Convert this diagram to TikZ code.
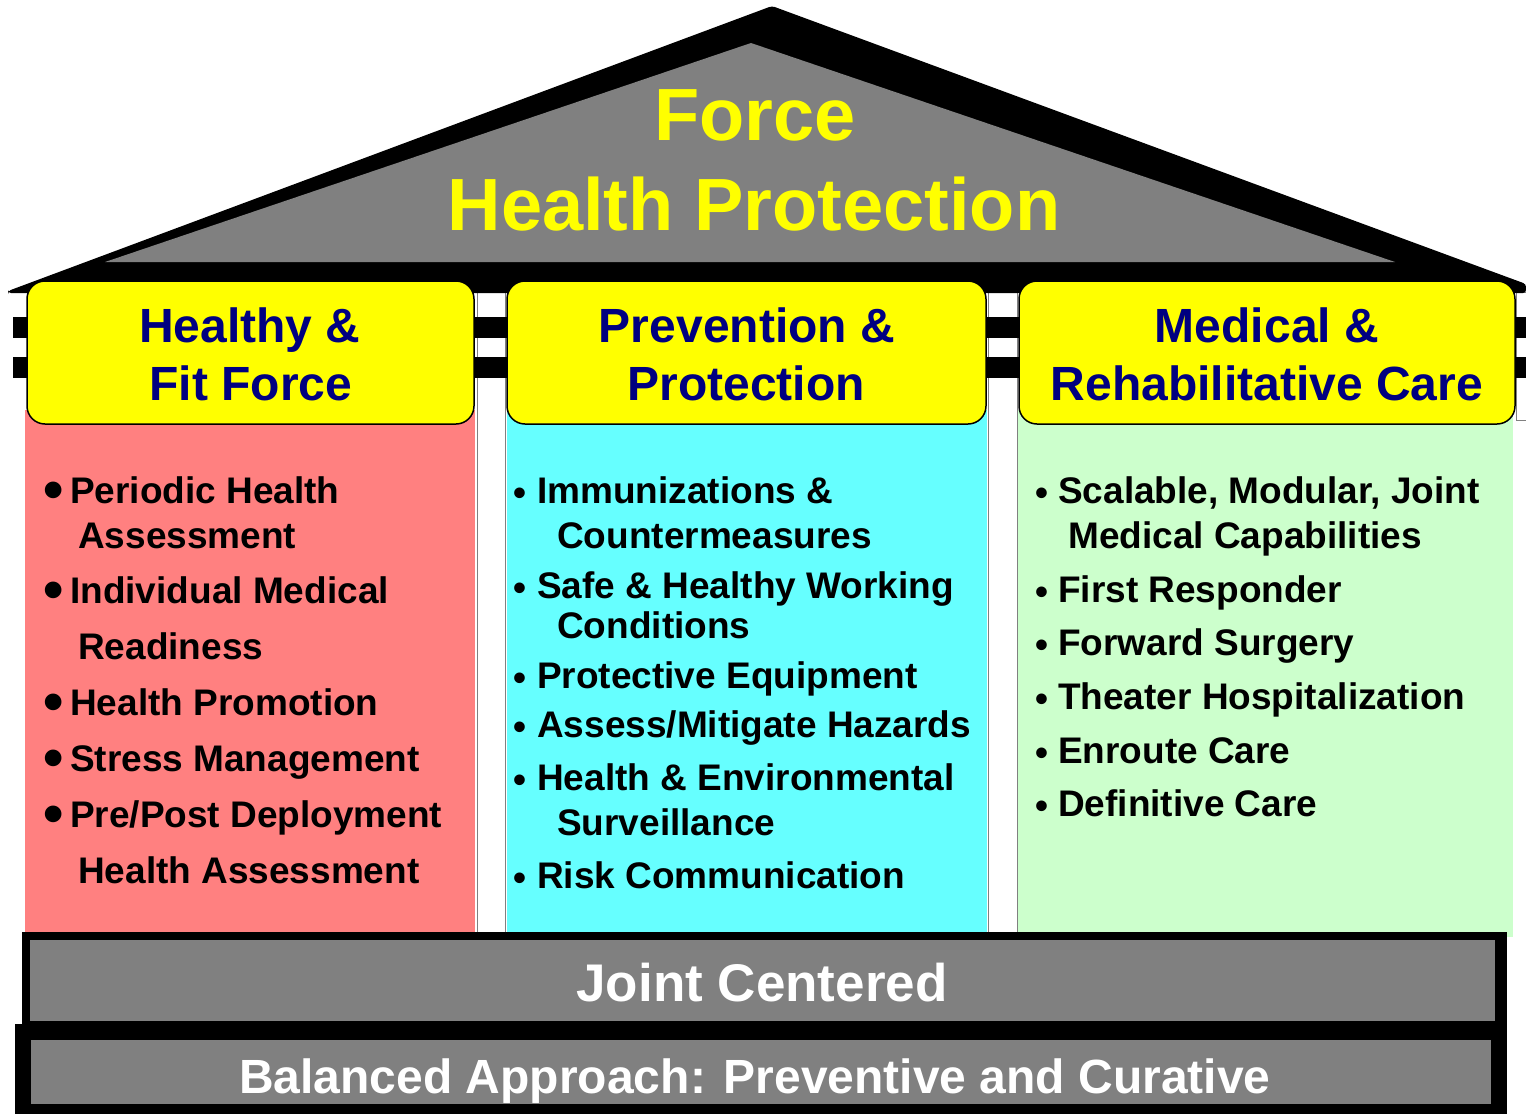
\documentclass[tikz,border=0pt]{standalone}
\usepackage{fontspec}
\setmainfont{Liberation Sans}
\definecolor{roofgray}{RGB}{128,128,128}
\definecolor{pillarred}{RGB}{255,128,128}
\definecolor{pillarcyan}{RGB}{102,255,255}
\definecolor{pillargreen}{RGB}{204,255,204}
\definecolor{headyellow}{RGB}{255,255,0}
\definecolor{navytext}{RGB}{0,0,128}
\begin{document}
\begin{tikzpicture}[x=1pt,y=-1pt,
  titletext/.style={anchor=base,inner sep=0pt,text=headyellow,font=\fontsize{74}{74}\selectfont\bfseries},
  headtext/.style={anchor=base,inner sep=0pt,text=navytext,font=\fontsize{48}{48}\selectfont\bfseries},
  itemtext/.style={anchor=base west,inner sep=0pt,text=black,font=\fontsize{37}{37}\selectfont\bfseries},
  bigbullet/.style={anchor=center,inner sep=0pt,text=black,font=\fontsize{58}{58}\selectfont\bfseries},
  smallbullet/.style={anchor=center,inner sep=0pt,text=black,font=\fontsize{37}{37}\selectfont\bfseries},
  headbox/.style={draw=black,line width=1.5pt,fill=headyellow,rounded corners=18pt},
  basetext/.style={anchor=base,inner sep=0pt,text=white,font=\bfseries},
  gapcol/.style={fill=white,draw=roofgray,line width=0.8pt}
]
\useasboundingbox (0,0) rectangle (1526,1114);
\fill[white] (0,0) rectangle (1526,1114);

% white gap columns between pillars
\filldraw[gapcol] (477,292) rectangle (505,934);
\filldraw[gapcol] (988,292) rectangle (1017,936);
\filldraw[gapcol] (1516,292) rectangle (1530,420);

% stripes (beams)
\fill[black] (13,317) rectangle (1526,338);
\fill[black] (13,357) rectangle (1526,378);

% roof
\fill[black,rounded corners=3pt] (8,291) -- (772,6) -- (1526,284) -- (1526,293) -- (8,293) -- cycle;
\fill[roofgray] (105,262) -- (751,43) -- (1395,262) -- cycle;

% pillars
\fill[pillarred] (25,410) rectangle (475,934);
\fill[pillarcyan] (507,410) rectangle (987,934);
\fill[pillargreen] (1018,410) rectangle (1513,937);

% header boxes
\draw[headbox] (27,281) rectangle (474,424);
\draw[headbox] (507,281) rectangle (986,424);
\draw[headbox] (1019,281) rectangle (1515,424);

% base
\fill[black] (22,932) rectangle (1507,1030);
\fill[roofgray] (30,940) rectangle (1495,1021);
\fill[black] (15,1024) rectangle (1507,1114);
\fill[roofgray] (31,1040) rectangle (1491,1104);

% title
\node[titletext] (force) at (755,140) {Force};
\node[titletext] (fhp) at (754,230) {Health Protection};

% headers
\node[headtext] (h1a) at (250,342) {Healthy \&};
\node[headtext] (h1b) at (251,400) {Fit Force};
\node[headtext] (h2a) at (747,342) {Prevention \&};
\node[headtext] (h2b) at (746,400) {Protection};
\node[headtext] (h3a) at (1267,342) {Medical \&};
\node[headtext] (h3b) at (1267,400) {Rehabilitative Care};

% left column
\node[bigbullet] (lb1) at (53.5,496) {•};
\node[itemtext] (l1) at (70,503) {Periodic Health};
\node[itemtext] (l2) at (78,548) {Assessment};
\node[bigbullet] (lb2) at (53.5,596) {•};
\node[itemtext] (l3) at (70,603) {Individual Medical};
\node[itemtext] (l4) at (78,659) {Readiness};
\node[bigbullet] (lb3) at (53.5,708) {•};
\node[itemtext] (l5) at (70,715) {Health Promotion};
\node[bigbullet] (lb4) at (53.5,764) {•};
\node[itemtext] (l6) at (70,771) {Stress Management};
\node[bigbullet] (lb5) at (53.5,820) {•};
\node[itemtext] (l7) at (70,827) {Pre/Post Deployment};
\node[itemtext] (l8) at (78,883) {Health Assessment};

% middle column
\node[smallbullet] (mb1) at (519.5,497) {•};
\node[itemtext] (m1) at (537,503) {Immunizations \&};
\node[itemtext] (m2) at (557,548) {Countermeasures};
\node[smallbullet] (mb2) at (519.5,592) {•};
\node[itemtext] (m3) at (537,598) {Safe \& Healthy Working};
\node[itemtext] (m4) at (557,638) {Conditions};
\node[smallbullet] (mb3) at (519.5,682) {•};
\node[itemtext] (m5) at (537,688) {Protective Equipment};
\node[smallbullet] (mb4) at (519.5,731) {•};
\node[itemtext] (m6) at (537,737) {Assess/Mitigate Hazards};
\node[smallbullet] (mb5) at (519.5,784) {•};
\node[itemtext] (m7) at (537,790) {Health \& Environmental};
\node[itemtext] (m8) at (557,835) {Surveillance};
\node[smallbullet] (mb6) at (519.5,882) {•};
\node[itemtext] (m9) at (537,888) {Risk Communication};

% right column
\node[smallbullet] (rb1) at (1041.5,497) {•};
\node[itemtext] (r1) at (1058,503) {Scalable, Modular, Joint};
\node[itemtext] (r2) at (1068,548) {Medical Capabilities};
\node[smallbullet] (rb2) at (1041.5,596) {•};
\node[itemtext] (r3) at (1058,602) {First Responder};
\node[smallbullet] (rb3) at (1041.5,649) {•};
\node[itemtext] (r4) at (1058,655) {Forward Surgery};
\node[smallbullet] (rb4) at (1041.5,703) {•};
\node[itemtext] (r5) at (1058,709) {Theater Hospitalization};
\node[smallbullet] (rb5) at (1041.5,757) {•};
\node[itemtext] (r6) at (1058,763) {Enroute Care};
\node[smallbullet] (rb6) at (1041.5,810) {•};
\node[itemtext] (r7) at (1058,816) {Definitive Care};

% base texts
\node[basetext,font=\fontsize{53}{53}\selectfont\bfseries] (joint) at (762,1001) {Joint Centered};
\node[basetext,font=\fontsize{48}{48}\selectfont\bfseries] (balanced) at (755,1093) {Balanced Approach: Preventive and Curative};
\end{tikzpicture}
\end{document}
